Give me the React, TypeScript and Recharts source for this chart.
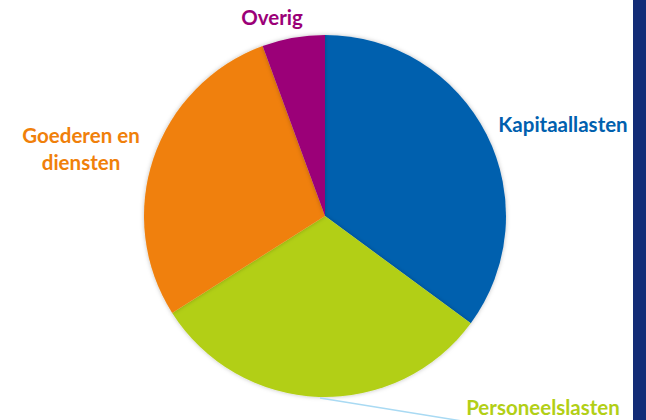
import { PieChart, Pie, Cell } from 'recharts';

const NAMES = ['Kapitaallasten', 'Personeelslasten', 'Goederen en diensten', 'Overig'];
const VALUES = [35.1, 30.9, 28.4, 5.6];
const COLORS = ['#0060AE', '#B2CF16', '#F0800A', '#9B0078'];

const data = NAMES.map((name, i) => ({ name, value: VALUES[i] }));

// label anchors (x, y of baseline) per slice, hand placed like the original slide
const LABEL_POS: Record<string, { x: number; y: number; lines: string[] }> = {
  Kapitaallasten: { x: 563, y: 132, lines: ['Kapitaallasten'] },
  Personeelslasten: { x: 543, y: 415, lines: ['Personeelslasten'] },
  'Goederen en diensten': { x: 81, y: 143, lines: ['Goederen en', 'diensten'] },
  Overig: { x: 272, y: 25, lines: ['Overig'] },
};

function renderLabel(props: any) {
  const { name, index, cx, cy, outerRadius } = props;
  const pos = LABEL_POS[name];
  const color = COLORS[index];
  return (
    <g>
      {name === 'Personeelslasten' && (
        <line
          x1={cx - 5}
          y1={cy + outerRadius + 1}
          x2={462}
          y2={421}
          stroke="#A9DAF3"
          strokeWidth={1.5}
        />
      )}
      <text
        x={pos.x}
        y={pos.y}
        textAnchor="middle"
        fill={color}
        style={{ fontFamily: 'Lato, sans-serif', fontWeight: 700, fontSize: 20.5 }}
      >
        {pos.lines.map((l, i) => (
          <tspan key={i} x={pos.x} dy={i === 0 ? 0 : 27}>
            {l}
          </tspan>
        ))}
      </text>
    </g>
  );
}

export default function App() {
  return (
    <div style={{ position: 'absolute', left: 0, top: 0, width: 646, height: 420, background: '#fff', overflow: 'hidden' }}>
      <PieChart width={646} height={420} margin={{ top: 0, right: 0, bottom: 0, left: 0 }}>
        <defs>
          <filter id="shadow" x="-10%" y="-10%" width="120%" height="120%">
            <feDropShadow dx="0" dy="0" stdDeviation="2" floodColor="#000" floodOpacity="0.25" />
          </filter>
        </defs>
        <Pie
          data={data}
          dataKey="value"
          nameKey="name"
          cx={325}
          cy={216}
          outerRadius={181}
          startAngle={90}
          endAngle={-270}
          stroke="none"
          label={renderLabel}
          labelLine={false}
          isAnimationActive={false}
          style={{ filter: 'url(#shadow)' }}
        >
          {data.map((_, i) => (
            <Cell key={i} fill={COLORS[i]} />
          ))}
        </Pie>
      </PieChart>
      <div style={{ position: 'absolute', left: 633, top: 0, width: 13, height: 420, background: '#132C77' }} />
    </div>
  );
}
